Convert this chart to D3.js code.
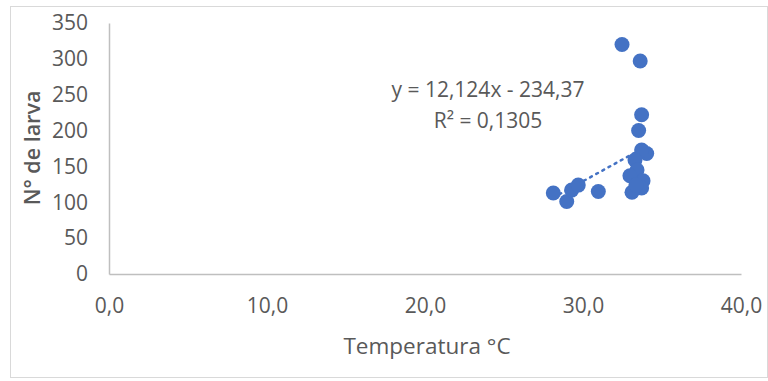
<!DOCTYPE html>
<html><head><meta charset="utf-8">
<script src="https://cdn.jsdelivr.net/npm/d3@7"></script>
<style>body{margin:0;background:#fff;}svg{display:block;}</style>
</head><body>
<svg id="c" width="768" height="381"></svg>
<script>
const temperatura = [32.47, 33.62, 33.71, 33.52, 34.03, 33.71, 33.29, 33.42, 32.97, 33.80, 33.71, 33.10, 33.35, 28.12, 28.97, 29.28, 29.70, 30.97];
const larvas      = [320, 297, 222, 200, 168, 173, 159, 145, 137, 130, 120, 114, 124, 113, 101, 117, 124, 115];
const xTicks = [0, 10, 20, 30, 40];
const yTicks = [0, 50, 100, 150, 200, 250, 300, 350];
const slope = 12.124, intercept = -234.37;
const eqLabel = "y = 12,124x - 234,37";
const r2Label = "R² = 0,1305";
const xTitle = "Temperatura °C";
const yTitle = "N° de larva";

const svg = d3.select("#c");
const font = "'Open Sans', sans-serif";
const txt = "#595959";
const m = {left:109, right:741, top:23, bottom:274};
const x = d3.scaleLinear().domain([0,40]).range([m.left, m.right]);
const y = d3.scaleLinear().domain([0,350]).range([m.bottom, m.top]);
const loc = d3.formatLocale({decimal:",", thousands:".", grouping:[3], currency:["",""]});
const fx = loc.format(".1f");

svg.append("rect").attr("x",10.5).attr("y",6.5).attr("width",757).attr("height",371)
  .attr("fill","#fff").attr("stroke","#d9d9d9");

const ax = svg.append("g").attr("transform",`translate(0,${m.bottom})`)
  .call(d3.axisBottom(x).tickValues(xTicks).tickFormat(fx).tickSize(0).tickPadding(24));
ax.select(".domain").attr("stroke","#bfbfbf").attr("stroke-width",1.5);
ax.selectAll("text").attr("font-family",font).attr("font-size",21).attr("fill",txt);

const ay = svg.append("g").attr("transform",`translate(${m.left},0)`)
  .call(d3.axisLeft(y).tickValues(yTicks).tickSize(0).tickPadding(21));
ay.select(".domain").attr("stroke","#bfbfbf").attr("stroke-width",1.5);
ay.selectAll("text").attr("font-family",font).attr("font-size",21).attr("fill",txt);

const xmin = d3.min(temperatura), xmax = d3.max(temperatura);
svg.append("line")
  .attr("x1",x(xmin)).attr("y1",y(slope*xmin+intercept))
  .attr("x2",x(xmax)).attr("y2",y(slope*xmax+intercept))
  .attr("stroke","#4472C4").attr("stroke-width",2.5).attr("stroke-dasharray","2,5").attr("stroke-linecap","round");

svg.append("g").selectAll("circle").data(temperatura).join("circle")
  .attr("cx",(d)=>x(d)).attr("cy",(d,i)=>y(larvas[i])).attr("r",7.5).attr("fill","#4472C4");

svg.append("text").attr("x",488).attr("y",97).attr("text-anchor","middle")
  .attr("font-family",font).attr("font-size",21).attr("fill",txt).text(eqLabel);
svg.append("text").attr("x",488).attr("y",128).attr("text-anchor","middle")
  .attr("font-family",font).attr("font-size",21).attr("fill",txt).text(r2Label);

svg.append("text").attr("x",427).attr("y",354).attr("text-anchor","middle")
  .attr("font-family",font).attr("font-size",22.5).attr("fill",txt).text(xTitle);
svg.append("text").attr("transform","translate(40,148) rotate(-90)").attr("text-anchor","middle")
  .attr("font-family",font).attr("font-size",21.5).attr("font-weight",600).attr("fill",txt).text(yTitle);
</script>
</body></html>
